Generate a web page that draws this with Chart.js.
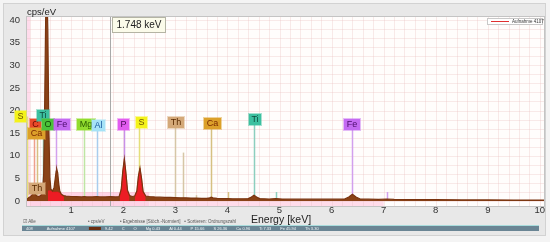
<!DOCTYPE html>
<html><head><meta charset="utf-8">
<script src="https://cdn.jsdelivr.net/npm/chart.js@4"></script>
<style>html,body{margin:0;padding:0;background:#f4f4f4;overflow:hidden}#wrap{width:550px;height:242px}</style>
</head><body><div id="wrap"><canvas id="c" width="550" height="242"></canvas></div>
<script>
// ---- data ----
const energies = [0.15,0.18,0.22,0.26,0.28,0.30,0.34,0.38,0.42,0.45,0.47,0.49,0.51,0.53,0.55,0.57,0.59,0.61,0.64,0.67,0.69,0.71,0.72,0.74,0.76,0.78,0.81,0.85,0.90,1.00,1.10,1.20,1.25,1.30,1.40,1.49,1.55,1.65,1.75,1.85,1.92,1.96,1.99,2.02,2.05,2.08,2.12,2.17,2.22,2.26,2.29,2.32,2.35,2.38,2.43,2.50,2.60,2.70,2.80,2.90,3.00,3.10,3.20,3.30,3.40,3.50,3.60,3.66,3.69,3.72,3.80,3.90,4.00,4.10,4.20,4.30,4.40,4.46,4.51,4.56,4.62,4.80,4.93,5.05,5.30,5.50,5.70,5.90,6.10,6.25,6.33,6.40,6.47,6.55,6.70,6.90,7.06,7.20,7.50,8.00,8.50,9.00,9.50,10.00,10.08];
const counts   = [0.4,0.7,1.0,1.5,1.9,1.6,1.1,1.0,1.3,2.2,6,22,42,48,38,16,5,2.6,2.2,3.0,4.8,6.6,7.1,6.2,3.8,2.2,1.5,1.2,1.1,1.0,0.95,0.9,1.0,0.9,0.9,1.0,0.9,0.9,0.95,0.9,1.0,2.6,6.6,9.3,6.2,2.4,1.2,1.0,1.1,2.2,5.5,7.3,5.0,2.1,1.1,1.0,0.9,0.85,0.8,0.8,0.75,0.7,0.7,0.65,0.65,0.6,0.6,0.7,0.85,0.7,0.6,0.55,0.55,0.5,0.5,0.5,0.55,0.9,1.3,0.9,0.55,0.45,0.55,0.45,0.4,0.4,0.4,0.4,0.4,0.45,0.9,1.5,0.9,0.45,0.4,0.35,0.45,0.35,0.3,0.3,0.25,0.25,0.2,0.2,0.2];
const fitEnergies = [0.55,0.58,0.62,0.65,0.68,0.70,0.74,0.78,0.82,0.86,0.90, 1.93,1.96,1.99,2.02,2.05,2.08,2.12,2.16, 2.22,2.26,2.29,2.32,2.35,2.38,2.43];
const fitCounts   = [2.2,2.3,2.2,2.0,2.0,2.0,2.0,1.8,1.4,1.0,null, 1.0,2.6,6.6,9.3,6.2,2.4,1.2,null, 1.1,2.2,5.5,7.3,5.0,2.1,1.1];
const elementNames    = ['S','C','Ca','Ti','O','Fe','Mg','Al','P','S','Th','Ca','Ti','Fe','Th'];
const elementEnergies = [0.149,0.277,0.341,0.452,0.525,0.705,1.254,1.487,2.013,2.307,2.996,3.691,4.510,6.398,0.330];
const labelEnergies   = [0.02,0.32,0.34,0.46,0.55,0.82,1.28,1.53,1.995,2.35,3.01,3.71,4.53,6.39,0.34];
const labelLevels     = [18.7,16.9,15.0,19.0,16.8,17.0,17.0,16.7,17.0,17.3,17.4,17.2,18.0,17.0,2.8];
const minorLineEnergies = [3.146,3.40,4.012,4.932,7.058];
const minorLineLevels   = [10.7,1.3,2.0,2.0,2.0];
const minorLineElements = ['Th','Th','Ca','Ti','Fe'];
const cursorEnergy = 1.748;
const xTickValues = [1,2,3,4,5,6,7,8,9,10];
const yTickValues = [0,5,10,15,20,25,30,35,40];
const bandFrom = [0.15,2.5,0.15];
const bandTo   = [2.5,7.0,0.21];
const bandLow  = [-1.1,-1.1,-1.1];
const bandHigh = [2.0,0,40.66];
const seriesName = 'Aufnahme 4107';
const statusItems = ['408','Aufnahme 4107','','9.42','C','O','Mg 0.43','Al 0.44','P 15.66','S 26.36','Ca 0.96','Ti 7.33','Fe 45.94','Th 3.30'];

// ---- styles ----
const FONT = "'Liberation Sans', Arial, sans-serif";
Chart.defaults.font.family = FONT;
const tagStyle = {
  S:{bg:'#f4f21a',fg:'#6a5200',line:'#e4de7a'},
  Ti:{bg:'#3cc0a0',fg:'#0d4a3c',line:'#8ccfbf'},
  C:{bg:'#e84a2a',fg:'#6a0a00',line:'#eea08c'},
  O:{bg:'#4cc23a',fg:'#104a08',line:'#a0e090'},
  Fe:{bg:'#c46af2',fg:'#4a0a6a',line:'#d2a0ee'},
  Ca:{bg:'#dca02a',fg:'#7a2a00',line:'#d6c082'},
  Mg:{bg:'#92dc2e',fg:'#2a5a00',line:'#bfe6a4'},
  Al:{bg:'#a6e2f6',fg:'#1a5aa0',line:'#a8cdee'},
  P:{bg:'#e25cf0',fg:'#4a0a5a',line:'#c890e8'},
  Th:{bg:'#d4a878',fg:'#5a2a00',line:'#d6c6a6'}
};
const bandColors = ['#ffd3e6','#ffdcea','#ffdcec'];

const spectrum = energies.map((e,i)=>({x:e,y:counts[i]}));
const fitPts = fitEnergies.map((e,i)=>({x:e,y:fitCounts[i]}));

const decor = {
  id:'decor',
  beforeDraw(chart){
    const ctx=chart.ctx, a=chart.chartArea;
    ctx.save();
    ctx.fillStyle='#f4f4f4'; ctx.fillRect(0,0,550,242);
    ctx.fillStyle='#e8e8e8'; ctx.fillRect(3,3,543,233);
    ctx.strokeStyle='#d2d2d2'; ctx.lineWidth=1; ctx.strokeRect(3.5,3.5,542,232);
    ctx.fillStyle='#fffdfc'; ctx.fillRect(a.left,a.top,a.right-a.left,a.bottom-a.top);
    ctx.restore();
  },
  beforeDatasetsDraw(chart){
    const {ctx, chartArea:a, scales:{x,y}} = chart;
    ctx.save();
    ctx.beginPath(); ctx.rect(a.left,a.top,a.right-a.left,a.bottom-a.top); ctx.clip();
    bandFrom.forEach((f,i)=>{
      const x0=x.getPixelForValue(f), x1=x.getPixelForValue(bandTo[i]);
      const y0=y.getPixelForValue(bandHigh[i]), y1=y.getPixelForValue(bandLow[i]);
      ctx.fillStyle=bandColors[i]; ctx.fillRect(x0,y0,x1-x0,y1-y0);
    });
    // fine grid
    ctx.strokeStyle='rgba(236,196,196,0.35)'; ctx.lineWidth=1;
    for(let k=1;k<=50;k++){const px=Math.round(x.getPixelForValue(k*0.2))+0.5; ctx.beginPath(); ctx.moveTo(px,a.top); ctx.lineTo(px,a.bottom); ctx.stroke();}
    for(let k=0;k<=20;k++){const py=Math.round(y.getPixelForValue(k*2))+0.5; ctx.beginPath(); ctx.moveTo(a.left,py); ctx.lineTo(a.right,py); ctx.stroke();}
    // cursor line
    const cx=Math.round(x.getPixelForValue(cursorEnergy))+0.5;
    ctx.strokeStyle='#a9a9a9'; ctx.beginPath(); ctx.moveTo(cx,a.top); ctx.lineTo(cx,a.bottom); ctx.stroke();
    // element lines
    const y0=y.getPixelForValue(0);
    elementNames.forEach((n,i)=>{
      const px=Math.round(x.getPixelForValue(elementEnergies[i]))+0.5;
      ctx.strokeStyle=tagStyle[n].line; ctx.lineWidth=1.5;
      ctx.beginPath(); ctx.moveTo(px,y.getPixelForValue(labelLevels[i])); ctx.lineTo(px,y0); ctx.stroke();
    });
    minorLineEnergies.forEach((e,i)=>{
      const px=Math.round(x.getPixelForValue(e))+0.5;
      ctx.strokeStyle=tagStyle[minorLineElements[i]].line; ctx.lineWidth=1.5;
      ctx.beginPath(); ctx.moveTo(px,y.getPixelForValue(minorLineLevels[i])); ctx.lineTo(px,y0); ctx.stroke();
    });
    ctx.restore();
  },
  afterDatasetsDraw(chart){
    const {ctx, chartArea:a, scales:{x,y}} = chart;
    ctx.save();
    // border of plot
    ctx.strokeStyle='#c4c4c4'; ctx.lineWidth=1;
    ctx.strokeRect(a.left-0.5,a.top-0.5,a.right-a.left+1,a.bottom-a.top+1);
    // element tags
    ctx.font='9px '+FONT; ctx.textAlign='center'; ctx.textBaseline='middle';
    elementNames.forEach((n,i)=>{
      const st=tagStyle[n];
      const cx=x.getPixelForValue(labelEnergies[i]), cy=y.getPixelForValue(labelLevels[i]);
      const w=Math.round(ctx.measureText(n).width+5), h=11;
      const l=Math.round(cx-w/2), t=Math.round(cy-h/2);
      ctx.globalAlpha=0.45; ctx.fillStyle=st.bg; ctx.fillRect(l-1,t-1,w+2,h+2);
      ctx.globalAlpha=1; ctx.fillStyle=st.bg; ctx.fillRect(l,t,w,h);
      ctx.fillStyle=st.fg; ctx.fillText(n,l+w/2,t+h/2+0.5);
    });
    // cursor box
    const cx=Math.round(x.getPixelForValue(cursorEnergy));
    ctx.fillStyle='#fbfbea'; ctx.fillRect(cx+2,a.top,54,16);
    ctx.strokeStyle='#b4b4a4'; ctx.strokeRect(cx+2.5,a.top+0.5,53,15);
    ctx.fillStyle='#222'; ctx.font='10px '+FONT; ctx.textAlign='center';
    ctx.fillText(cursorEnergy.toFixed(3)+' keV',cx+29,a.top+8.5);
    // legend
    const lx=a.right-57, ly=a.top+1;
    ctx.fillStyle='#ffffff'; ctx.fillRect(lx,ly,56,7);
    ctx.strokeStyle='#c8c8c8'; ctx.strokeRect(lx+0.5,ly+0.5,55,6);
    ctx.strokeStyle='#e03030'; ctx.beginPath(); ctx.moveTo(lx+4,ly+3.5); ctx.lineTo(lx+22,ly+3.5); ctx.stroke();
    ctx.fillStyle='#333'; ctx.font='4.5px '+FONT; ctx.textAlign='left';
    ctx.fillText(seriesName,lx+25,ly+4);
    ctx.restore();
  },
  afterDraw(chart){
    const ctx=chart.ctx;
    ctx.save();
    ctx.fillStyle='#222'; ctx.font='9.5px '+FONT; ctx.textAlign='left'; ctx.textBaseline='middle';
    ctx.fillText('cps/eV',27,12.5);
    ctx.font='10.5px '+FONT; ctx.textAlign='center';
    ctx.fillText('Energy [keV]',281,220);
    ctx.fillStyle='#555'; ctx.font='4.5px '+FONT; ctx.textAlign='left';
    ctx.fillText('\u2611 Alle',23,222);
    ctx.fillText('\u2022 cps/eV',88,222);
    ctx.fillText('\u2022 Ergebnisse [Stöch.-Normiert]   \u2022 Sortieren: Ordnungszahl',120,222);
    ctx.fillStyle='#a8dcdc'; ctx.fillRect(22,225,517,1);
    ctx.fillStyle='#6a8594'; ctx.fillRect(22,226,517,5);
    ctx.font='4px '+FONT; ctx.fillStyle='#f0f4f6';
    let px=26;
    statusItems.forEach((s,i)=>{
      if(s===''){ctx.fillStyle='#6a2e10'; ctx.fillRect(px,227,12,3); ctx.fillStyle='#f0f4f6'; px+=16; return;}
      ctx.fillText(s,px,228.6); px+=ctx.measureText(s).width+(i<2?14:9);
    });
    ctx.restore();
  }
};

new Chart(document.getElementById('c'), {
  type:'line',
  data:{datasets:[
    {label:seriesName, data:spectrum, borderColor:'#7a3410', borderWidth:1.2, pointRadius:0, fill:false, order:1},
    {label:'fit', data:fitPts, borderColor:'#e8141e', borderWidth:0.5, backgroundColor:'#ec1c24', fill:'origin', pointRadius:0, order:2, spanGaps:false},
    {label:'area', data:spectrum, borderWidth:0, borderColor:'rgba(0,0,0,0)', backgroundColor:'#8a4216', fill:'origin', pointRadius:0, order:3}
  ]},
  options:{
    responsive:false, animation:false, devicePixelRatio:1,
    layout:{padding:{left:0,right:6,top:17,bottom:22}},
    plugins:{legend:{display:false}, tooltip:{enabled:false}},
    scales:{
      x:{type:'linear', min:0.15, max:10.08,
        afterBuildTicks:s=>{s.ticks=xTickValues.map(v=>({value:v}));},
        afterFit:s=>{s.height=14;},
        grid:{display:false,drawTicks:false}, border:{display:false},
        ticks:{padding:-1,color:'#333',font:{size:9.5},maxRotation:0,autoSkip:false}},
      y:{type:'linear', min:-1.1, max:40.66,
        afterBuildTicks:s=>{s.ticks=yTickValues.map(v=>({value:v}));},
        afterFit:s=>{s.width=27;},
        grid:{display:false,drawTicks:false}, border:{display:false},
        ticks:{padding:7,color:'#333',font:{size:9.5},autoSkip:false}}
    }
  },
  plugins:[decor]
});
</script></body></html>
